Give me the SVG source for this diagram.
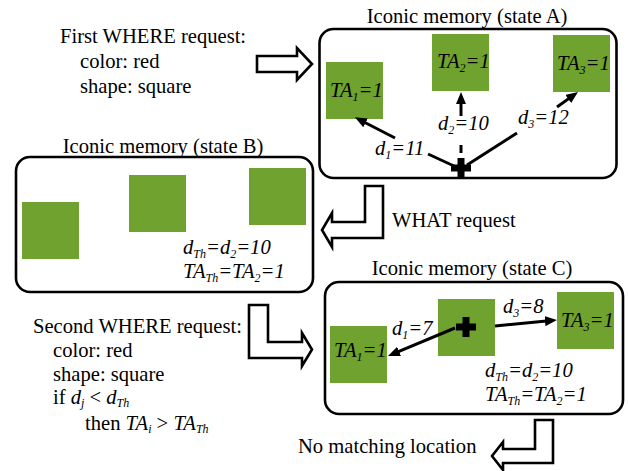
<svg xmlns="http://www.w3.org/2000/svg" width="628" height="471" viewBox="0 0 628 471">
  <style>
    text { font-family: "Liberation Serif", "DejaVu Serif", "Times New Roman", serif; font-size: 20.6px; fill: #000; }
    .it { font-style: italic; }
    .sub { font-size: 12px; font-style: italic; }
    .box { fill: #fff; stroke: #000; stroke-width: 2.6; }
    .sq { fill: #6fa22e; }
    .ln { stroke: #000; stroke-width: 3; fill: none; }
    .arr { stroke: #000; stroke-width: 3; fill: none; marker-end: url(#head); }
    .blk { fill: #fff; stroke: #000; stroke-width: 2.6; stroke-linejoin: miter; }
    .ttl { text-anchor: middle; }
  </style>
  <defs>
    <marker id="head" viewBox="0 0 12 10" refX="4" refY="5" markerWidth="12" markerHeight="10" markerUnits="userSpaceOnUse" orient="auto">
      <path d="M0,0 L12,5 L0,10 z" fill="#000"/>
    </marker>
    <path id="plus" d="M-10,-3.5 H-3.5 V-10 H3.5 V-3.5 H10 V3.5 H3.5 V10 H-3.5 V3.5 H-10 Z" fill="#000"/>
  </defs>

  <!-- request texts -->
  <g id="first-where">
    <text x="60" y="43">First WHERE request:</text>
    <text x="80" y="68">color: red</text>
    <text x="80" y="93">shape: square</text>
  </g>
  <g id="second-where">
    <text x="33" y="333">Second WHERE request:</text>
    <text x="53" y="357">color: red</text>
    <text x="53" y="381">shape: square</text>
    <text x="53" y="404">if <tspan class="it">d</tspan><tspan class="sub" dy="3">j</tspan><tspan dy="-3"> &lt; </tspan><tspan class="it">d</tspan><tspan class="sub" dy="3">Th</tspan></text>
    <text x="85" y="430">then <tspan class="it">TA</tspan><tspan class="sub" dy="3">i</tspan><tspan dy="-3"> &gt; </tspan><tspan class="it">TA</tspan><tspan class="sub" dy="3">Th</tspan></text>
  </g>
  <g id="what-label">
    <text x="392" y="227">WHAT request</text>
  </g>
  <g id="no-match-label">
    <text x="298" y="453">No matching location</text>
  </g>

  <!-- state A -->
  <g id="state-a">
    <text class="ttl" x="467" y="23">Iconic memory (state A)</text>
    <rect class="box" x="319.5" y="29" width="297" height="149" rx="14"/>
    <rect class="sq" x="326" y="62" width="57" height="57"/>
    <rect class="sq" x="432" y="34" width="57" height="57"/>
    <rect class="sq" x="553" y="35" width="57" height="57"/>
    <text class="it" x="330" y="97">TA<tspan class="sub" dy="4">1</tspan><tspan dy="-4">=1</tspan></text>
    <text class="it" x="437" y="68">TA<tspan class="sub" dy="4">2</tspan><tspan dy="-4">=1</tspan></text>
    <text class="it" x="557" y="70">TA<tspan class="sub" dy="4">3</tspan><tspan dy="-4">=1</tspan></text>
    <text class="it" x="375" y="155">d<tspan class="sub" dy="4">1</tspan><tspan dy="-4">=11</tspan></text>
    <text class="it" x="438" y="130">d<tspan class="sub" dy="4">2</tspan><tspan dy="-4">=10</tspan></text>
    <text class="it" x="518" y="124">d<tspan class="sub" dy="4">3</tspan><tspan dy="-4">=12</tspan></text>
    <use href="#plus" x="461" y="168"/>
  </g>

  <!-- state B -->
  <g id="state-b">
    <text class="ttl" x="163" y="153">Iconic memory (state B)</text>
    <rect class="box" x="16" y="157" width="297" height="135" rx="14"/>
    <rect class="sq" x="22" y="202" width="57" height="57"/>
    <rect class="sq" x="129" y="175" width="57" height="57"/>
    <rect class="sq" x="249" y="168" width="57" height="57"/>
    <text class="it" x="183" y="254">d<tspan class="sub" dy="4">Th</tspan><tspan dy="-4">=d</tspan><tspan class="sub" dy="4">2</tspan><tspan dy="-4">=10</tspan></text>
    <text class="it" x="183" y="278">TA<tspan class="sub" dy="4">Th</tspan><tspan dy="-4">=TA</tspan><tspan class="sub" dy="4">2</tspan><tspan dy="-4">=1</tspan></text>
  </g>

  <!-- state C -->
  <g id="state-c">
    <text class="ttl" x="472" y="275">Iconic memory (state C)</text>
    <rect class="box" x="325" y="282" width="298" height="132" rx="14"/>
    <rect class="sq" x="330" y="326" width="57" height="57"/>
    <rect class="sq" x="438" y="299" width="57" height="57"/>
    <rect class="sq" x="557" y="292" width="57" height="57"/>
    <text class="it" x="334" y="357">TA<tspan class="sub" dy="4">1</tspan><tspan dy="-4">=1</tspan></text>
    <text class="it" x="561" y="327">TA<tspan class="sub" dy="4">3</tspan><tspan dy="-4">=1</tspan></text>
    <text class="it" x="392" y="335">d<tspan class="sub" dy="4">1</tspan><tspan dy="-4">=7</tspan></text>
    <text class="it" x="503" y="313">d<tspan class="sub" dy="4">3</tspan><tspan dy="-4">=8</tspan></text>
    <text class="it" x="485" y="377">d<tspan class="sub" dy="4">Th</tspan><tspan dy="-4">=d</tspan><tspan class="sub" dy="4">2</tspan><tspan dy="-4">=10</tspan></text>
    <text class="it" x="485" y="401">TA<tspan class="sub" dy="4">Th</tspan><tspan dy="-4">=TA</tspan><tspan class="sub" dy="4">2</tspan><tspan dy="-4">=1</tspan></text>
    <use href="#plus" x="466" y="327"/>
  </g>

  <!-- connectors -->
  <g id="connectors">
    <!-- distance arrows, state A -->
    <line class="ln" x1="454" y1="166" x2="428" y2="154"/>
    <line class="arr" x1="395" y1="138" x2="362" y2="121"/>
    <line class="ln" x1="461" y1="145" x2="461" y2="153"/>
    <line class="arr" x1="461" y1="116" x2="461" y2="100"/>
    <line class="ln" x1="467" y1="165" x2="517" y2="133"/>
    <line class="arr" x1="557" y1="107" x2="571.5" y2="96.6"/>
    <!-- distance arrows, state C -->
    <line class="arr" x1="455" y1="328" x2="395.4" y2="352.9"/>
    <line class="arr" x1="495" y1="326" x2="549" y2="320.8"/>
    <!-- block arrows between stages -->
    <path class="blk" d="M257,56 L297,56 L297,48 L312,64 L297,80 L297,72 L257,72 Z"/>
    <path class="blk" d="M365,186 L383,186 L383,238 L332,238 L332,247 L322,230 L332,213 L332,222 L365,222 Z"/>
    <path class="blk" d="M249,305 L268,305 L268,342 L302,342 L302,333 L312,349.5 L302,366 L302,358 L249,358 Z"/>
    <path class="blk" d="M535,420 L553,420 L553,463 L503,463 L503,470 L492,456 L503,442 L503,449 L535,449 Z"/>
  </g>
</svg>
